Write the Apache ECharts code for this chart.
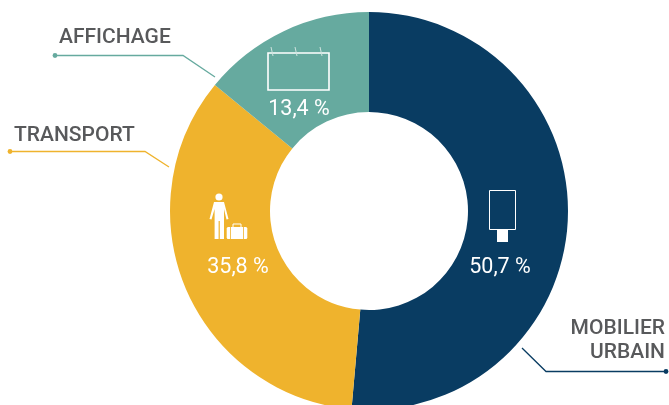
<!DOCTYPE html>
<html><head><meta charset="utf-8">
<style>html,body{margin:0;padding:0;background:#fff}#c{width:669px;height:405px}</style>
<script src="https://cdn.jsdelivr.net/npm/echarts@6/dist/echarts.min.js"></script>
</head><body><div id="c"></div>
<script>
const categories = ['MOBILIER URBAIN', 'TRANSPORT', 'AFFICHAGE'];
const sliceShares = [51.4, 34.5, 14.1];
const shareLabels = ['50,7 %', '35,8 %', '13,4 %'];
const colors = ['#093c62', '#efb32d', '#66aa9f'];
const labelPos = [[500, 268], [238, 268], [299, 110]];
const FONT = 'Roboto';
const GREY = '#58595b';
const text = (x, y, t, align) => ({type:'text', x, y, silent:true,
  style:{text:t, fill:GREY, font:'500 21px '+FONT, textAlign:align||'left', textVerticalAlign:'middle'}});
const line = (pts, c, w) => ({type:'polyline', silent:true, shape:{points:pts},
  style:{stroke:c, lineWidth:w||1.3, fill:null}});
const dot = (x, y, c) => ({type:'circle', silent:true, shape:{cx:x, cy:y, r:2.4}, style:{fill:c}});
const W = '#fff';
const icons = [
    // billboard icon
    {type:'rect',silent:true,shape:{x:268,y:53,width:61,height:37},style:{stroke:W,lineWidth:1.6,fill:null}},
    line([[271,47],[273,56]],'#cfe3df',1),line([[295,47],[297,56]],'#cfe3df',1),line([[320,47],[322,56]],'#cfe3df',1),
    // street furniture icon
    {type:'rect',silent:true,shape:{x:489.5,y:190.5,width:26,height:39},style:{stroke:W,lineWidth:1,fill:null}},
    {type:'rect',silent:true,shape:{x:497,y:230,width:11,height:12},style:{fill:W}},
    // traveller icon
    {type:'circle',silent:true,shape:{cx:219,cy:197,r:3.6},style:{fill:W}},
    {type:'polygon',silent:true,shape:{points:[[214,202],[224,202],[228.5,219],[226.5,219.5],[224,209],[224,239],[219.8,239],[219.8,221],[218.6,221],[218.6,239],[214.6,239],[214.6,209],[211.5,219.5],[209.5,219]]},style:{fill:W}},
    {type:'rect',silent:true,shape:{x:226.7,y:227,width:20.6,height:12,r:1.5},style:{fill:W}},
    {type:'rect',silent:true,shape:{x:233,y:224,width:8,height:3.5},style:{stroke:W,lineWidth:1,fill:null}},
    {type:'rect',silent:true,shape:{x:230,y:227,width:0.8,height:12},style:{fill:colors[1]}},
    {type:'rect',silent:true,shape:{x:243,y:227,width:0.8,height:12},style:{fill:colors[1]}}
].map(e=>Object.assign(e,{z:20}));
const chart = echarts.init(document.getElementById('c'), null, {renderer:'canvas'});
chart.setOption({
  animation:false,
  backgroundColor:'#fff',
  series:[{
    type:'pie', center:[369,211], radius:[99,199], startAngle:90, clockwise:true,
    silent:true,
    data:categories.map((name,i)=>({name, value:sliceShares[i], itemStyle:{color:colors[i]},
      label:{formatter:shareLabels[i]}})),
    label:{show:true, position:'inside', color:W, fontFamily:FONT, fontSize:21.5, fontWeight:400},
    labelLine:{show:false},
    labelLayout:(p)=>({x:labelPos[p.dataIndex][0], y:labelPos[p.dataIndex][1], align:'center', verticalAlign:'middle'})
  }],
  graphic:{elements:[
    text(59,38,'AFFICHAGE'),
    text(14,136,'TRANSPORT'),
    text(665,329,'MOBILIER','right'),
    text(665,353,'URBAIN','right'),
    line([[55,55.5],[183,55.5],[215,77]],colors[2]), dot(55,55.5,colors[2]),
    line([[10,151.5],[145,151.5],[169,167]],colors[1]), dot(10,151.5,colors[1]),
    line([[522,348],[546,371.5],[666,371.5]],colors[0]), dot(666,371.5,colors[0]),
    ...icons
  ]}
});
</script></body></html>
